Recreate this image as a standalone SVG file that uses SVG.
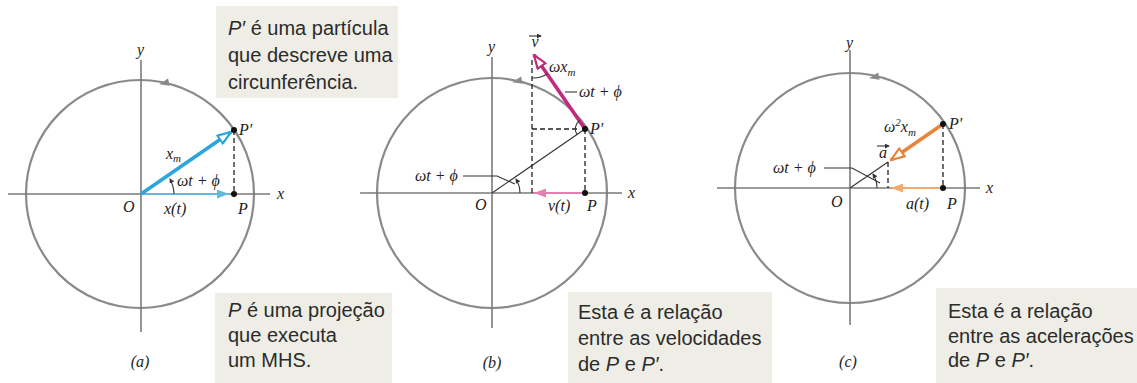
<svg xmlns="http://www.w3.org/2000/svg" width="1137" height="383" viewBox="0 0 1137 383">
<style>
.circ{fill:none;stroke:#8a8a8a;stroke-width:2.2}
.axis{stroke:#7a7a7a;stroke-width:1.6;fill:none}
.dash{stroke:#222;stroke-width:1.3;stroke-dasharray:5 3;fill:none}
.thin{stroke:#333;stroke-width:1.1;fill:none}
.box{fill:#eeeee6}
.bt{font-family:"Liberation Sans",Arial,sans-serif;font-size:20px;fill:#2b2b2b}
.m{font-family:"Liberation Serif","DejaVu Serif",serif;font-style:italic;font-size:16px;fill:#222}
.sub{font-size:11px}
.dot{fill:#111}
</style>
<defs>
<marker id="hb" viewBox="0 0 16 12" refX="14.5" refY="6" markerWidth="16" markerHeight="12" markerUnits="userSpaceOnUse" orient="auto"><path d="M1.2,1.2 L14.5,6 L1.2,10.8 Z" fill="#fff" stroke="#2ba6dc" stroke-width="2.2"/></marker>
<marker id="hm" viewBox="0 0 16 12" refX="14.5" refY="6" markerWidth="16" markerHeight="12" markerUnits="userSpaceOnUse" orient="auto"><path d="M1.2,1.2 L14.5,6 L1.2,10.8 Z" fill="#fff" stroke="#c42a7c" stroke-width="2.2"/></marker>
<marker id="ho" viewBox="0 0 16 12" refX="14.5" refY="6" markerWidth="16" markerHeight="12" markerUnits="userSpaceOnUse" orient="auto"><path d="M1.2,1.2 L14.5,6 L1.2,10.8 Z" fill="#fff" stroke="#e8843c" stroke-width="2.2"/></marker>
<marker id="fb" viewBox="0 0 12 9" refX="12" refY="4.5" markerWidth="12" markerHeight="9" markerUnits="userSpaceOnUse" orient="auto"><path d="M0,0 L12,4.5 L0,9 Z" fill="#62b8df"/></marker>
<marker id="fm" viewBox="0 0 12 9" refX="12" refY="4.5" markerWidth="12" markerHeight="9" markerUnits="userSpaceOnUse" orient="auto"><path d="M0,0 L12,4.5 L0,9 Z" fill="#e47fb2"/></marker>
<marker id="fo" viewBox="0 0 12 9" refX="12" refY="4.5" markerWidth="12" markerHeight="9" markerUnits="userSpaceOnUse" orient="auto"><path d="M0,0 L12,4.5 L0,9 Z" fill="#f0aa72"/></marker>
<marker id="sa" viewBox="0 0 6 6" refX="5" refY="3" markerWidth="5" markerHeight="5" markerUnits="userSpaceOnUse" orient="auto"><path d="M0,0 L6,3 L0,6 Z" fill="#333"/></marker>
<path id="dir" d="M-6,0 L4,-3.8 L4,3.8 Z" fill="#8a8a8a"/>
</defs>

<!-- Panel a -->
<g id="panel-a">
<circle class="circ" cx="140" cy="194" r="114"/>
<line class="axis" x1="8" y1="194" x2="270" y2="194"/>
<line class="axis" x1="141" y1="60" x2="141" y2="332"/>
<use href="#dir" transform="translate(165,83) rotate(-13)"/>
<text class="m" x="277" y="199">x</text>
<text class="m" x="137" y="55">y</text>
<text class="m" x="123" y="212">O</text>
<text class="m" x="164" y="214">x(t)</text>
<text class="m" x="238" y="214">P</text>
<text class="m" x="239" y="135">P′</text>
<text class="m" x="177" y="186">ωt + ϕ</text>
<text class="m" x="166" y="159" font-size="13">x<tspan class="sub" dy="3">m</tspan></text>
<text class="m" x="140" y="367" text-anchor="middle">(a)</text>
</g>
<g id="box-a1">
<rect class="box" x="216" y="6" width="182" height="92"/>
<text class="bt" x="228" y="35"><tspan font-style="italic">P′</tspan> é uma partícula</text>
<text class="bt" x="228" y="62">que descreve uma</text>
<text class="bt" x="228" y="89">circunferência.</text>
</g>
<g id="box-a2">
<rect class="box" x="215" y="293" width="177" height="90"/>
<text class="bt" x="228" y="317"><tspan font-style="italic">P</tspan> é uma projeção</text>
<text class="bt" x="228" y="342">que executa</text>
<text class="bt" x="228" y="367">um MHS.</text>
</g>

<!-- Panel b -->
<g id="panel-b">
<circle class="circ" cx="492" cy="193" r="115"/>
<line class="axis" x1="360" y1="193" x2="622" y2="193"/>
<line class="axis" x1="492" y1="57" x2="492" y2="328"/>
<use href="#dir" transform="translate(518,81) rotate(-13)"/>
<text class="m" x="628" y="198">x</text>
<text class="m" x="488" y="52">y</text>
<text class="m" x="475" y="210">O</text>
<text class="m" x="548" y="211">v(t)</text>
<text class="m" x="587" y="211">P</text>
<text class="m" x="590" y="134">P′</text>
<text class="m" x="415" y="181">ωt + ϕ</text>
<text class="m" x="579" y="97">ωt + ϕ</text>
<text class="m" x="549" y="72">ωx<tspan class="sub" dy="4">m</tspan></text>
<text class="m" x="535" y="47" text-anchor="middle">v</text>
<text class="m" x="492" y="368" text-anchor="middle">(b)</text>
</g>
<g id="box-b">
<rect class="box" x="568" y="292" width="204" height="91"/>
<text class="bt" x="578" y="319">Esta é a relação</text>
<text class="bt" x="578" y="345">entre as velocidades</text>
<text class="bt" x="578" y="371">de <tspan font-style="italic">P</tspan> e <tspan font-style="italic">P′</tspan>.</text>
</g>

<!-- Panel c -->
<g id="panel-c">
<circle class="circ" cx="850" cy="188" r="115"/>
<line class="axis" x1="717" y1="188" x2="980" y2="188"/>
<line class="axis" x1="850" y1="50" x2="850" y2="325"/>
<use href="#dir" transform="translate(875,77) rotate(-13)"/>
<text class="m" x="986" y="193">x</text>
<text class="m" x="846" y="48">y</text>
<text class="m" x="831" y="207">O</text>
<text class="m" x="906" y="209">a(t)</text>
<text class="m" x="947" y="209">P</text>
<text class="m" x="949" y="129">P′</text>
<text class="m" x="773" y="173">ωt + ϕ</text>
<text class="m" x="884" y="132">ω<tspan dy="-6" font-size="11">2</tspan><tspan dy="6">x</tspan><tspan class="sub" dy="4">m</tspan></text>
<text class="m" x="883" y="158" text-anchor="middle">a</text>
<text class="m" x="848" y="367" text-anchor="middle">(c)</text>
</g>
<g id="box-c">
<rect class="box" x="936" y="288" width="201" height="95"/>
<text class="bt" x="948" y="318">Esta é a relação</text>
<text class="bt" x="948" y="343">entre as acelerações</text>
<text class="bt" x="948" y="367">de <tspan font-style="italic">P</tspan> e <tspan font-style="italic">P′</tspan>.</text>
</g>

<g id="connectors">
<!-- a -->
<line class="dash" x1="234" y1="130" x2="234" y2="194"/>
<line x1="141" y1="194" x2="229" y2="194" stroke="#62b8df" stroke-width="2.2" marker-end="url(#fb)"/>
<line x1="141" y1="194" x2="231" y2="132" stroke="#2ba6dc" stroke-width="3.6" marker-end="url(#hb)"/>
<path class="thin" d="M174,194 A33,33 0 0 0 170,179" marker-end="url(#sa)"/>
<circle class="dot" cx="234" cy="130" r="3"/>
<circle class="dot" cx="234" cy="194" r="3"/>
<!-- b -->
<line class="thin" x1="492" y1="193" x2="585" y2="129"/>
<line class="dash" x1="585" y1="129" x2="585" y2="193"/>
<line class="dash" x1="532" y1="60" x2="532" y2="193"/>
<line class="dash" x1="532" y1="129" x2="578" y2="129"/>
<line x1="585" y1="193" x2="534" y2="193" stroke="#e47fb2" stroke-width="2.2" marker-end="url(#fm)"/>
<line x1="585" y1="129" x2="534" y2="55" stroke="#c42a7c" stroke-width="3.6" marker-end="url(#hm)"/>
<path class="thin" d="M577,134.5 A10,10 0 0 1 579.5,120.8"/>
<path class="thin" d="M532,78 A25,25 0 0 0 547,74"/>
<line class="thin" x1="565" y1="92" x2="577" y2="92"/>
<path class="thin" d="M463,176 L497,176 L515,184"/>
<path class="thin" d="M520,193 A28,28 0 0 0 516,179" marker-end="url(#sa)"/>
<path class="thin" d="M529,36 L541,36" marker-end="url(#sa)"/>
<circle class="dot" cx="585" cy="129" r="3"/>
<circle class="dot" cx="585" cy="193" r="3"/>
<!-- c -->
<line class="thin" x1="850" y1="188" x2="888" y2="162"/>
<line class="dash" x1="943" y1="124" x2="943" y2="188"/>
<line class="dash" x1="888" y1="162" x2="888" y2="188"/>
<line x1="943" y1="188" x2="891" y2="188" stroke="#f0aa72" stroke-width="2.2" marker-end="url(#fo)"/>
<line x1="943" y1="124" x2="891" y2="160" stroke="#e8843c" stroke-width="3.6" marker-end="url(#ho)"/>
<path class="thin" d="M824,168 L852,168 L880,183"/>
<path class="thin" d="M877,188 A27,27 0 0 0 873,174" marker-end="url(#sa)"/>
<path class="thin" d="M877,146 L889,146" marker-end="url(#sa)"/>
<circle class="dot" cx="943" cy="124" r="3"/>
<circle class="dot" cx="943" cy="188" r="3"/>
</g>
</svg>
